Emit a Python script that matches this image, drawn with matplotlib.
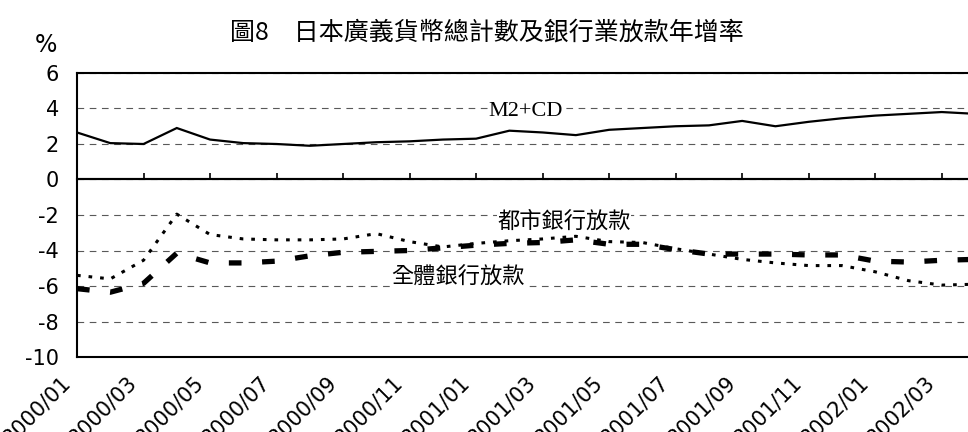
import matplotlib
matplotlib.use('Agg')
import matplotlib.pyplot as plt
import matplotlib.transforms as mtransforms

# ─── Data ────────────────────────────────────────────────────────────────────
months = ['2000/01', '2000/02', '2000/03', '2000/04', '2000/05', '2000/06',
          '2000/07', '2000/08', '2000/09', '2000/10', '2000/11', '2000/12',
          '2001/01', '2001/02', '2001/03', '2001/04', '2001/05', '2001/06',
          '2001/07', '2001/08', '2001/09', '2001/10', '2001/11', '2001/12',
          '2002/01', '2002/02', '2002/03', '2002/04']

m2cd = [2.65, 2.05, 2.0, 2.9, 2.25, 2.05, 2.0, 1.9, 2.0, 2.1, 2.15, 2.25,
        2.3, 2.75, 2.65, 2.5, 2.8, 2.9, 3.0, 3.05, 3.3, 3.0, 3.25, 3.45,
        3.6, 3.7, 3.8, 3.7]

city_loans = [-5.4, -5.6, -4.55, -1.95, -3.1, -3.35, -3.4, -3.4, -3.35, -3.05,
              -3.5, -3.8, -3.6, -3.45, -3.35, -3.2, -3.5, -3.55, -3.9, -4.2,
              -4.5, -4.7, -4.85, -4.85, -5.2, -5.7, -5.95, -5.9]

all_loans = [-6.15, -6.35, -5.85, -4.15, -4.7, -4.7, -4.6, -4.3, -4.1, -4.05,
             -4.0, -3.85, -3.7, -3.6, -3.55, -3.4, -3.65, -3.65, -3.95, -4.2,
             -4.2, -4.2, -4.25, -4.25, -4.6, -4.65, -4.55, -4.5]

yticks = [-10, -8, -6, -4, -2, 0, 2, 4, 6]

TITLE = '圖8\u3000日本廣義貨幣總計數及銀行業放款年增率'
CJK = ['Noto Sans CJK TC', 'DejaVu Sans']
NUM = ['Liberation Sans Narrow', 'DejaVu Sans']

# ─── Figure ──────────────────────────────────────────────────────────────────
W, H = 968, 432
fig = plt.figure(figsize=(W / 100, H / 100), dpi=100)
# plot box in pixels: left 77, top 73, bottom 357; right edge runs off the page
ax = fig.add_axes([77 / W, (H - 357) / H, (975 - 77) / W, (357 - 73) / H])

x = list(range(len(months)))
ax.plot(x, m2cd, color='black', lw=1.6, solid_joinstyle='miter', zorder=3)
ax.plot(x, city_loans, color='black', lw=2.2, ls=(0, (1.2, 2.6)), zorder=3)
ax.plot(x, all_loans, color='black', lw=3.8, ls=(0, (2.4, 3.9)), zorder=3)

ax.set_xlim(0, len(months) - 1)
ax.set_ylim(-10, 6)

# dashed horizontal grid
ax.set_yticks(yticks)
ax.set_yticklabels([str(v) for v in yticks], family=NUM, fontsize=15)
ax.grid(axis='y', ls=(0, (6, 5)), color='0.35', lw=0.8, zorder=0)
ax.tick_params(axis='y', length=0, pad=13)

# category labels every second month, rotated, along the bottom frame
tick_pos = x[::2][:14]
ax.set_xticks(tick_pos)
ax.set_xticklabels([months[i] for i in tick_pos], rotation=45, ha='right',
                   va='top', rotation_mode='anchor', family=NUM, fontsize=15)
ax.tick_params(axis='x', length=0, pad=11)
shift = mtransforms.ScaledTranslation(-17 / 100, 0, fig.dpi_scale_trans)
for lab in ax.get_xticklabels():
    lab.set_transform(lab.get_transform() + shift)

for side in ['top', 'left', 'bottom']:
    ax.spines[side].set_linewidth(1.5)
ax.spines['right'].set_visible(False)

# zero line with small upward tick marks (category axis crosses at 0)
zero_frac = (0 - (-10)) / (6 - (-10))
sec = ax.secondary_xaxis(zero_frac)
sec.set_xticks(tick_pos)
sec.tick_params(direction='out', length=4, width=1.2,
                labeltop=False, labelbottom=False)
for sp in sec.spines.values():
    sp.set_linewidth(1.5)
ax.axhline(0, color='black', lw=1.5, zorder=2)

# series labels inside the plot (they blank out the grid behind them)
box = dict(facecolor='white', edgecolor='none', pad=0)
ax.text(13.5, 3.85, 'M2+CD', family='Liberation Serif', fontsize=16,
        ha='center', va='center', bbox=box, zorder=2)
ax.text(14.65, -2.35, '都市銀行放款', family=CJK, fontsize=16,
        ha='center', va='center', bbox=box, zorder=2)
ax.text(11.45, -5.5, '全體銀行放款', family=CJK, fontsize=16,
        ha='center', va='center', bbox=box, zorder=2)

fig.text(35 / W, 1 - 45 / H, '%', fontsize=17, family=NUM, va='center')
fig.text(487 / W, 1 - 33 / H, TITLE, family=CJK, fontsize=18,
         ha='center', va='center')

fig.savefig('out.png', dpi=100)
